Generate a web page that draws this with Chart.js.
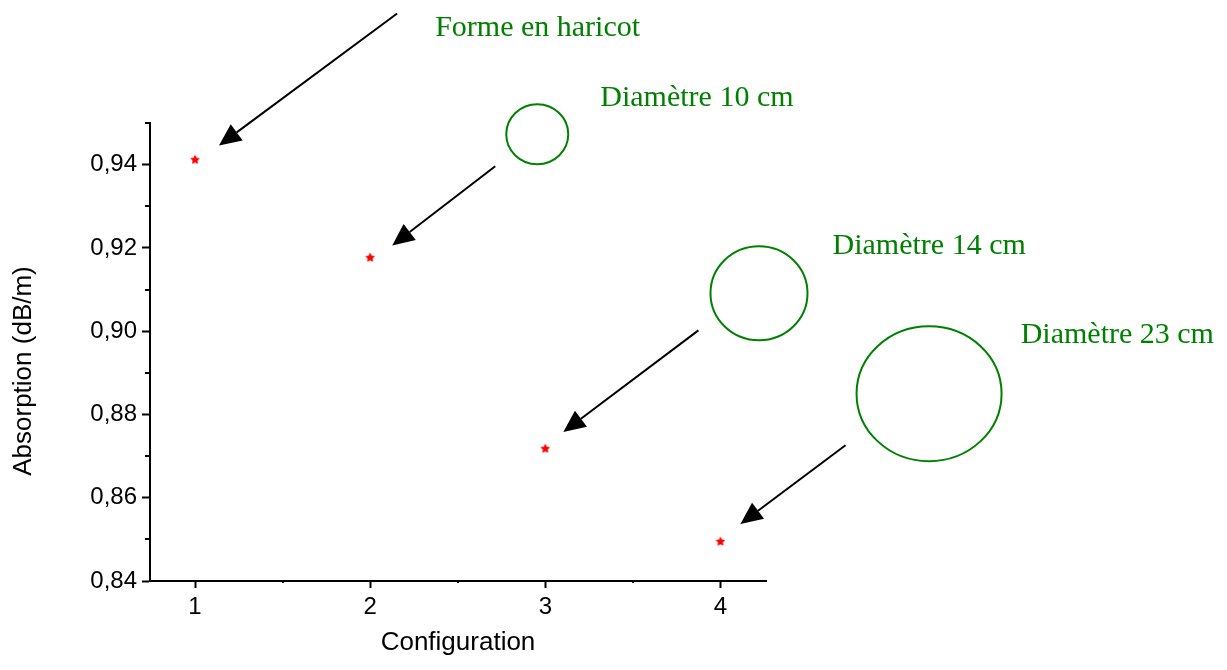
<!DOCTYPE html>
<html>
<head>
<meta charset="utf-8">
<script src="https://cdn.jsdelivr.net/npm/chart.js@4/dist/chart.umd.min.js"></script>
<style>
html, body { margin: 0; padding: 0; background: #ffffff; }
canvas { display: block; }
</style>
</head>
<body>
<canvas id="chart" width="1227" height="670"></canvas>
<script>
// ---- data ----
const configurations = [1, 2, 3, 4];
const absorption = [0.9413, 0.9178, 0.8719, 0.8496];
const xTickValues = [1, 2, 3, 4];
const yTickValues = [0.84, 0.86, 0.88, 0.90, 0.92, 0.94];
const yTickLabels = ['0,84', '0,86', '0,88', '0,90', '0,92', '0,94'];
const xMinorTicks = [1.5, 2.5, 3.5];
const yMinorTicks = [0.85, 0.87, 0.89, 0.91, 0.93, 0.95];
const xAxisTitle = 'Configuration';
const yAxisTitle = 'Absorption (dB/m)';

// ---- annotations (in data coordinates) ----
const annotationLabels = ['Forme en haricot', 'Diamètre 10 cm', 'Diamètre 14 cm', 'Diamètre 23 cm'];
const labelAnchors = [[2.371, 0.9708], [3.314, 0.9540], [4.640, 0.9185], [5.714, 0.8971]];
const arrowTails = [[2.154, 0.9763], [2.714, 0.9396], [3.874, 0.9002], [4.714, 0.8726]];
const arrowTips = [[1.137, 0.9446], [2.126, 0.9206], [3.103, 0.8758], [4.114, 0.8537]];
const circleCentres = [[2.954, 0.9473], [4.220, 0.9091], [5.191, 0.8850]];
const circleRadii = [[31, 30], [48.5, 47], [72.5, 67.5]];

const GREEN = '#008000';
const AXIS_FONT = '"Liberation Sans", Arial, sans-serif';

function makeStar(size, color) {
  const c = document.createElement('canvas');
  c.width = size; c.height = size;
  const g = c.getContext('2d');
  g.fillStyle = color;
  g.beginPath();
  const cx = size / 2, cy = size / 2 + 0.6, R = size / 2, r = R * 0.52;
  for (let i = 0; i < 10; i++) {
    const a = -Math.PI / 2 + i * Math.PI / 5;
    const rad = (i % 2) ? r : R;
    g.lineTo(cx + rad * Math.cos(a), cy + rad * Math.sin(a));
  }
  g.closePath();
  g.fill();
  return c;
}
const starImg = makeStar(10, '#ff0000');

const decorPlugin = {
  id: 'decor',
  afterDraw(chart) {
    const ctx = chart.ctx;
    const xs = chart.scales.x, ys = chart.scales.y;
    const px = v => xs.getPixelForValue(v);
    const py = v => ys.getPixelForValue(v);
    const area = chart.chartArea;
    ctx.save();
    // minor ticks
    ctx.strokeStyle = '#000';
    ctx.lineWidth = 2;
    yMinorTicks.forEach(v => {
      const y = Math.round(py(v));
      ctx.beginPath(); ctx.moveTo(area.left - 5, y); ctx.lineTo(area.left, y); ctx.stroke();
    });
    xMinorTicks.forEach(v => {
      const x = Math.round(px(v));
      ctx.beginPath(); ctx.moveTo(x, area.bottom); ctx.lineTo(x, area.bottom + 2); ctx.stroke();
    });
    // y axis title
    ctx.fillStyle = '#000';
    ctx.font = '26px ' + AXIS_FONT;
    ctx.textAlign = 'center';
    ctx.textBaseline = 'middle';
    ctx.translate(24, 371);
    ctx.rotate(-Math.PI / 2);
    ctx.fillText(yAxisTitle, 0, 0);
    ctx.restore();

    ctx.save();
    // circles
    ctx.strokeStyle = GREEN;
    ctx.lineWidth = 2;
    circleCentres.forEach((c, i) => {
      ctx.beginPath();
      ctx.ellipse(px(c[0]), py(c[1]), circleRadii[i][0], circleRadii[i][1], 0, 0, Math.PI * 2);
      ctx.stroke();
    });
    // arrows
    ctx.strokeStyle = '#000';
    ctx.fillStyle = '#000';
    arrowTails.forEach((t, i) => {
      const x0 = px(t[0]), y0 = py(t[1]);
      const x1 = px(arrowTips[i][0]), y1 = py(arrowTips[i][1]);
      const ang = Math.atan2(y1 - y0, x1 - x0);
      const headLen = 22, headHalf = 10;
      const bx = x1 - headLen * Math.cos(ang), by = y1 - headLen * Math.sin(ang);
      ctx.lineWidth = 2;
      ctx.beginPath(); ctx.moveTo(x0, y0); ctx.lineTo(bx, by); ctx.stroke();
      ctx.beginPath();
      ctx.moveTo(x1, y1);
      ctx.lineTo(bx + headHalf * Math.sin(ang), by - headHalf * Math.cos(ang));
      ctx.lineTo(bx - headHalf * Math.sin(ang), by + headHalf * Math.cos(ang));
      ctx.closePath();
      ctx.fill();
    });
    // labels
    ctx.fillStyle = GREEN;
    ctx.font = '30px "Liberation Serif", "Times New Roman", serif';
    ctx.textAlign = 'left';
    ctx.textBaseline = 'alphabetic';
    annotationLabels.forEach((t, i) => {
      ctx.fillText(t, px(labelAnchors[i][0]), py(labelAnchors[i][1]));
    });
    ctx.restore();
  }
};

new Chart(document.getElementById('chart'), {
  type: 'scatter',
  data: {
    datasets: [{
      label: 'Absorption',
      data: configurations.map((c, i) => ({ x: c, y: absorption[i] })),
      pointStyle: starImg,
      pointRadius: 5,
      pointHoverRadius: 5,
      showLine: false
    }]
  },
  options: {
    responsive: false,
    animation: false,
    events: [],
    layout: { padding: { top: 123, right: 461, left: 0, bottom: 0 } },
    plugins: { legend: { display: false }, tooltip: { enabled: false } },
    scales: {
      x: {
        type: 'linear',
        min: 0.743,
        max: 4.26,
        afterBuildTicks: axis => { axis.ticks = xTickValues.map(v => ({ value: v })); },
        afterFit: s => { s.height = 89; },
        ticks: {
          color: '#000',
          font: { family: AXIS_FONT, size: 24 },
          padding: 5,
          callback: v => String(v)
        },
        grid: { drawOnChartArea: false, drawTicks: true, tickLength: 7, tickWidth: 2, color: '#000' },
        border: { display: true, color: '#000', width: 2 },
        title: {
          display: true,
          text: xAxisTitle,
          color: '#000',
          font: { family: AXIS_FONT, size: 26 },
          padding: { top: 0, bottom: 12 }
        }
      },
      y: {
        type: 'linear',
        min: 0.84,
        max: 0.95,
        afterBuildTicks: axis => { axis.ticks = yTickValues.map(v => ({ value: v })); },
        afterFit: s => { s.width = 150; },
        ticks: {
          color: '#000',
          font: { family: AXIS_FONT, size: 24 },
          padding: 5,
          callback: (v, i) => yTickLabels[i]
        },
        grid: { drawOnChartArea: false, drawTicks: true, tickLength: 8, tickWidth: 2, color: '#000' },
        border: { display: true, color: '#000', width: 2 }
      }
    }
  },
  plugins: [decorPlugin]
});
</script>
</body>
</html>
